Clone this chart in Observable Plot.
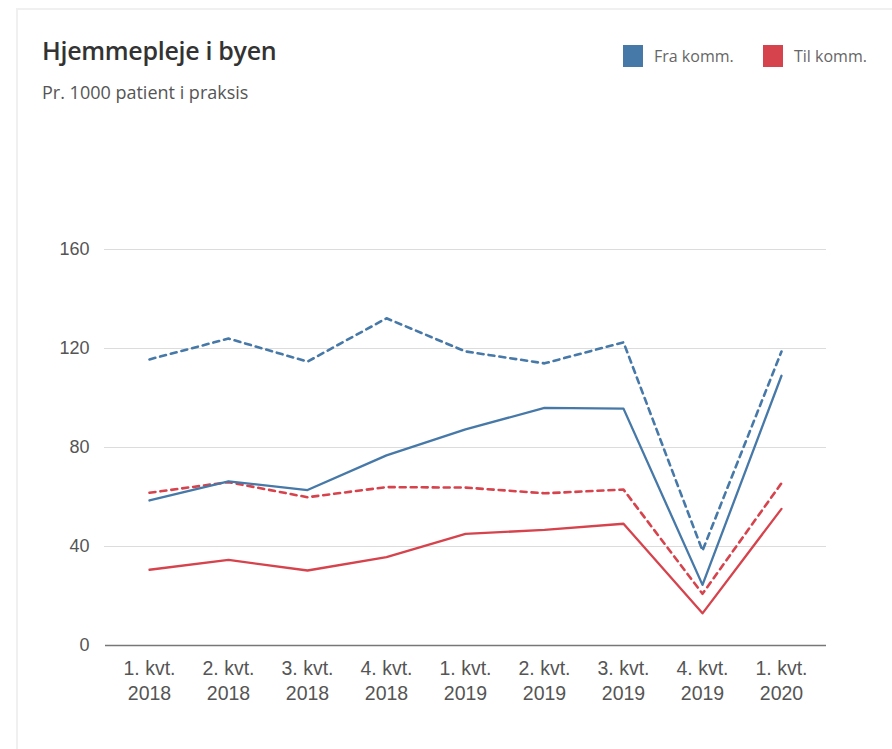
<!DOCTYPE html>
<html>
<head>
<meta charset="utf-8">
<script src="https://cdn.jsdelivr.net/npm/d3@7"></script>
<script src="https://cdn.jsdelivr.net/npm/@observablehq/plot@0.6"></script>
<style>
  html, body { margin: 0; padding: 0; background: #fff; }
  body { width: 892px; height: 749px; position: relative; overflow: hidden; font-family: "Open Sans", sans-serif; }
  .card { position: absolute; left: 16px; top: 8px; width: 900px; height: 800px; border: 2px solid #f0f0f0; box-sizing: border-box; }
  .title { position: absolute; left: 42px; top: 33px; font-size: 25px; font-weight: 600; color: #333; letter-spacing: -0.3px; }
  .subtitle { position: absolute; left: 42px; top: 80px; font-size: 18px; color: #555; }
  .legend { position: absolute; top: 45px; font-size: 16px; color: #666; display: flex; align-items: center; }
  .legend .sw { width: 20px; height: 22px; margin-right: 11px; }
  #chart { position: absolute; left: 0; top: 0; }
</style>
</head>
<body>
<div class="card"></div>
<div class="title">Hjemmepleje i byen</div>
<div class="subtitle">Pr. 1000 patient i praksis</div>
<div id="legend"></div>
<div id="chart"></div>
<script>
const quarters = ["1. kvt.\n2018","2. kvt.\n2018","3. kvt.\n2018","4. kvt.\n2018","1. kvt.\n2019","2. kvt.\n2019","3. kvt.\n2019","4. kvt.\n2019","1. kvt.\n2020"];
const fraSolid  = [58.6, 66.3, 62.8, 76.8, 87.3, 96.0, 95.7, 24.5, 109.0];
const fraDashed = [115.6, 124.0, 114.7, 132.2, 118.8, 114.0, 122.5, 38.3, 118.8];
const tilSolid  = [30.6, 34.6, 30.3, 35.7, 45.1, 46.7, 49.2, 13.0, 55.2];
const tilDashed = [61.7, 66.0, 59.9, 64.0, 63.8, 61.5, 63.0, 20.9, 65.6];
const yTicks = [0, 40, 80, 120, 160];
const seriesNames = ["Fra komm.", "Til komm."];
const seriesColors = ["#4678a8", "#d6434c"];

const rows = (vals, series, style) => vals.map((v, i) => ({q: quarters[i], v, series, style}));
const data = [
  ...rows(fraDashed, seriesNames[0], "dashed"),
  ...rows(tilDashed, seriesNames[1], "dashed"),
  ...rows(fraSolid, seriesNames[0], "solid"),
  ...rows(tilSolid, seriesNames[1], "solid")
];

// legend
const legend = document.getElementById("legend");
const legendX = [623, 763];
seriesNames.forEach((name, i) => {
  const el = document.createElement("div");
  el.className = "legend";
  el.style.left = legendX[i] + "px";
  el.innerHTML = `<span class="sw" style="background:${seriesColors[i]}"></span><span>${name}</span>`;
  legend.appendChild(el);
});

const color = {domain: seriesNames, range: seriesColors};
const chart = Plot.plot({
  width: 892,
  height: 749,
  marginTop: 249,
  marginBottom: 104,
  marginLeft: 107,
  marginRight: 70,
  style: {fontFamily: "'Liberation Sans', Arial, sans-serif", background: "transparent"},
  x: {type: "point", domain: quarters, padding: 0.5, label: null},
  y: {domain: [0, 160], label: null},
  color,
  marks: [
    Plot.ruleY(yTicks.filter(d => d > 0), {y: d => d, stroke: "#dcdcdc", strokeWidth: 1.2, insetLeft: -3, insetRight: -4}),
    Plot.ruleY([0], {stroke: "#777", strokeWidth: 1.5, insetLeft: -2, insetRight: -4}),
    Plot.axisY({ticks: yTicks, tickSize: 0, tickPadding: 18, fontSize: 18, fill: "#555", label: null}),
    Plot.axisX({tickSize: 0, tickPadding: 12, fontSize: 19.5, fill: "#555", lineHeight: 1.27, label: null}),
    Plot.line(data.filter(d => d.style === "dashed"), {x: "q", y: "v", z: "series", stroke: "series", strokeWidth: 2.6, strokeDasharray: "6,5"}),
    Plot.line(data.filter(d => d.style === "solid"), {x: "q", y: "v", z: "series", stroke: "series", strokeWidth: 2.3})
  ]
});
document.getElementById("chart").appendChild(chart);
</script>
</body>
</html>
